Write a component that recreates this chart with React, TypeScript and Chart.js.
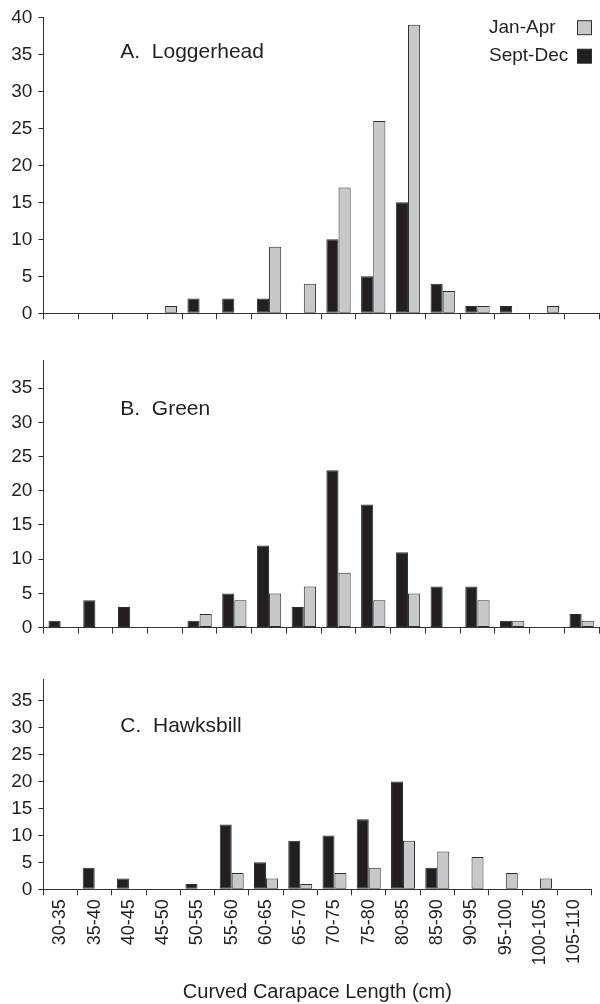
import React, { useEffect, useRef } from "react";
import { Chart, registerables } from "chart.js";

Chart.register(...registerables);

const categories = [
  "30-35", "35-40", "40-45", "45-50", "50-55", "55-60", "60-65", "65-70",
  "70-75", "75-80", "80-85", "85-90", "90-95", "95-100", "100-105", "105-110",
];

const seriesNames = ["Sept-Dec", "Jan-Apr"];

const loggerheadSeptDec = [0, 0, 0, 0, 2, 2, 2, 0, 10, 5, 15, 4, 1, 1, 0, 0];
const loggerheadJanApr = [0, 0, 0, 1, 0, 0, 9, 4, 17, 26, 39, 3, 1, 0, 1, 0];

const greenSeptDec = [1, 4, 3, 0, 1, 5, 12, 3, 23, 18, 11, 6, 6, 1, 0, 2];
const greenJanApr = [0, 0, 0, 0, 2, 4, 5, 6, 8, 4, 5, 0, 4, 1, 0, 1];

const hawksbillSeptDec = [0, 4, 2, 0, 1, 12, 5, 9, 10, 13, 20, 4, 0, 0, 0, 0];
const hawksbillJanApr = [0, 0, 0, 0, 0, 3, 2, 1, 3, 4, 9, 7, 6, 3, 2, 0];

const yTicksA = [0, 5, 10, 15, 20, 25, 30, 35, 40];
const yTicksBC = [0, 5, 10, 15, 20, 25, 30, 35];

const panelTitles = ["A.  Loggerhead", "B.  Green", "C.  Hawksbill"];
const xAxisTitle = "Curved Carapace Length (cm)";

const FONT = '"Liberation Sans", Arial, Helvetica, sans-serif';
const INK = "#231f20";
const AXIS = "#333333";
const DARK_FILL = "#231f20";
const LIGHT_FILL = "#c8c8ca";
const BORDER = "#2e2e2e";

type PanelProps = {
  top: number;
  height: number;
  title: string;
  titleY: number;
  septDec: number[];
  janApr: number[];
  yMax: number;
  yTicks: number[];
  showLegend: boolean;
  showLabels: boolean;
  padTop: number;
  padRight: number;
  xHeight: number;
};

function Panel(props: PanelProps) {
  const ref = useRef<HTMLCanvasElement | null>(null);

  useEffect(() => {
    if (!ref.current) return;
    const {
      title, titleY, septDec, janApr, yMax, yTicks, showLegend, showLabels,
      padTop, padRight, xHeight,
    } = props;

    const decor = {
      id: "panelDecor",
      afterDraw(chart: any) {
        const ctx = chart.ctx;
        const area = chart.chartArea;
        ctx.save();
        ctx.fillStyle = INK;
        ctx.textBaseline = "middle";
        ctx.textAlign = "left";
        ctx.font = `21px ${FONT}`;
        ctx.fillText(title, area.left + 77, titleY);
        if (showLegend) {
          ctx.font = `19px ${FONT}`;
          const order = [1, 0];
          order.forEach((di, i) => {
            const ds = chart.data.datasets[di];
            const cy = 27.7 + i * 28.5;
            ctx.fillStyle = INK;
            ctx.fillText(ds.label, 489, cy);
            ctx.fillStyle = ds.backgroundColor;
            ctx.fillRect(577.5, cy - 7, 14, 14);
            ctx.strokeStyle = BORDER;
            ctx.lineWidth = 1;
            ctx.strokeRect(577.5, cy - 7, 14, 14);
          });
        }
        ctx.restore();
      },
    };

    const chart = new Chart(ref.current, {
      type: "bar",
      data: {
        labels: categories,
        datasets: [
          {
            label: seriesNames[0],
            data: septDec.map((v) => (v === 0 ? null : v)),
            backgroundColor: DARK_FILL,
            borderColor: BORDER,
            borderWidth: 1,
            borderSkipped: false,
            categoryPercentage: 0.7,
            barPercentage: 1.0,
          },
          {
            label: seriesNames[1],
            data: janApr.map((v) => (v === 0 ? null : v)),
            backgroundColor: LIGHT_FILL,
            borderColor: BORDER,
            borderWidth: 1,
            borderSkipped: false,
            categoryPercentage: 0.7,
            barPercentage: 1.0,
          },
        ],
      },
      options: {
        animation: false,
        responsive: true,
        maintainAspectRatio: false,
        devicePixelRatio: 1,
        layout: { padding: { top: padTop, right: padRight, left: 0, bottom: 0 } },
        plugins: {
          legend: { display: false },
          tooltip: { enabled: false },
          title: { display: false },
        },
        scales: {
          x: {
            afterFit: (s: any) => {
              s.height = xHeight;
            },
            ticks: {
              display: showLabels,
              autoSkip: false,
              minRotation: 90,
              maxRotation: 90,
              padding: 4,
              color: INK,
              font: { family: FONT, size: 18 },
            },
            grid: {
              drawOnChartArea: false,
              drawTicks: true,
              tickLength: 6,
              color: AXIS,
              offset: true,
            },
            border: { color: AXIS, width: 1 },
            title: {
              display: showLabels,
              text: xAxisTitle,
              color: INK,
              font: { family: FONT, size: 20 },
              padding: { top: 0, bottom: 0 },
            },
          },
          y: {
            min: 0,
            max: yMax,
            afterFit: (s: any) => {
              s.width = 43.3;
            },
            afterBuildTicks: (s: any) => {
              s.ticks = yTicks.map((v) => ({ value: v }));
            },
            ticks: {
              color: INK,
              padding: 6,
              font: { family: FONT, size: 19 },
            },
            grid: {
              drawOnChartArea: false,
              drawTicks: true,
              tickLength: 5,
              color: AXIS,
            },
            border: { color: AXIS, width: 1 },
          },
        },
      },
      plugins: [decor],
    });
    return () => chart.destroy();
  }, []);

  return (
    <div
      style={{
        position: "absolute",
        left: 0,
        top: props.top,
        width: 600,
        height: props.height,
      }}
    >
      <canvas ref={ref} />
    </div>
  );
}

export default function App() {
  return (
    <div
      style={{
        position: "absolute",
        left: 0,
        top: 0,
        width: 600,
        height: 1004,
        background: "#ffffff",
        overflow: "hidden",
      }}
    >
      <Panel
        top={0}
        height={335}
        title={panelTitles[0]}
        titleY={52.7}
        septDec={loggerheadSeptDec}
        janApr={loggerheadJanApr}
        yMax={40}
        yTicks={yTicksA}
        showLegend={true}
        showLabels={false}
        padTop={15.7}
        padRight={1}
        xHeight={335 - 313.3}
      />
      <Panel
        top={335}
        height={310}
        title={panelTitles[1]}
        titleY={74}
        septDec={greenSeptDec}
        janApr={greenJanApr}
        yMax={39}
        yTicks={yTicksBC}
        showLegend={false}
        showLabels={false}
        padTop={25.7}
        padRight={1}
        xHeight={310 - 296.7}
      />
      <Panel
        top={645}
        height={359}
        title={panelTitles[2]}
        titleY={81.7}
        septDec={hawksbillSeptDec}
        janApr={hawksbillJanApr}
        yMax={39}
        yTicks={yTicksBC}
        showLegend={false}
        showLabels={true}
        padTop={34}
        padRight={3}
        xHeight={359 - 244.3}
      />
    </div>
  );
}
